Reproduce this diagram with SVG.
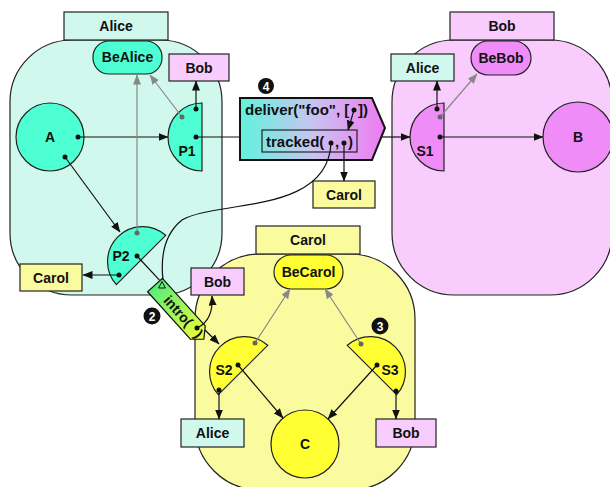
<svg xmlns="http://www.w3.org/2000/svg" width="610" height="487" viewBox="0 0 610 487">
<defs>
<marker id="ah" markerWidth="10" markerHeight="8" refX="9.5" refY="4" orient="auto" markerUnits="userSpaceOnUse"><path d="M0,0 L10,4 L0,8 Z" fill="#111"/></marker>
<marker id="ahg" markerWidth="10" markerHeight="8" refX="9.5" refY="4" orient="auto" markerUnits="userSpaceOnUse"><path d="M0,0 L10,4 L0,8 Z" fill="#888"/></marker>
<linearGradient id="gDeliver" x1="0" y1="0" x2="1" y2="0"><stop offset="0" stop-color="#5ff4dc"/><stop offset="0.5" stop-color="#c8c4f0"/><stop offset="1" stop-color="#f07af2"/></linearGradient>
<linearGradient id="gIntro" gradientUnits="userSpaceOnUse" x1="0" y1="0" x2="72" y2="0"><stop offset="0" stop-color="#55ee77"/><stop offset="1" stop-color="#f2ff3a"/></linearGradient>
</defs>
<style>
.vat{stroke:#222;stroke-width:1.2}
.box{stroke:#222;stroke-width:1.2}
text{font-family:"Liberation Sans",Arial,sans-serif;font-weight:bold;font-size:14px;fill:#111;text-anchor:middle}
.st{text-anchor:start;font-size:15px}
.num{fill:#fff;font-size:12px}
.mint{fill:#d0f8ec}.pink{fill:#f8ccfc}.lyel{fill:#fafa9e}
.aqua{fill:#4dffd2}.mag{fill:#f08cf8}.yel{fill:#ffff33}
.c{stroke:#111;stroke-width:1.2;fill:none}
.g{stroke:#888;stroke-width:1.2;fill:none}
.dot{fill:#111}.gdot{fill:#666}
</style>

<g id="vat-alice">
<rect class="vat mint" x="10" y="40" width="212" height="255" rx="62"/>
<rect class="box mint" x="64" y="12" width="104" height="28"/>
<text x="116" y="31">Alice</text>
</g>
<g id="vat-bob">
<rect class="vat pink" x="392" y="40" width="220" height="255" rx="62"/>
<rect class="box pink" x="450" y="12" width="104" height="28"/>
<text x="502" y="31">Bob</text>
</g>
<g id="vat-carol">
<rect class="vat lyel" x="195" y="254" width="220" height="236" rx="65"/>
<rect class="box lyel" x="256" y="226" width="104" height="28"/>
<text x="308" y="245">Carol</text>
</g>

<g id="BeAlice"><rect class="box aqua" x="93" y="41" width="69" height="33" rx="16"/><text x="127.5" y="62">BeAlice</text></g>
<g id="BeBob"><rect class="box mag" x="471" y="41" width="60" height="34" rx="17"/><text x="501" y="63">BeBob</text></g>
<g id="BeCarol"><rect class="box yel" x="274" y="255" width="69" height="34" rx="17"/><text x="308.5" y="277">BeCarol</text></g>

<g id="A"><circle class="box aqua" cx="50" cy="137" r="34"/><text x="50" y="142">A</text></g>
<g id="B"><circle class="box mag" cx="578" cy="137" r="35"/><text x="578" y="142">B</text></g>
<g id="C"><circle class="box yel" cx="305" cy="444" r="34"/><text x="305" y="449">C</text></g>

<g id="P1"><path class="box aqua" d="M202,103 A34,34 0 0 0 202,171 Z"/><text x="187" y="156">P1</text></g>
<g id="P2"><path class="box aqua" d="M116.3,284.7 A35,35 0 0 1 165.7,235.3 Z"/><text x="121" y="261">P2</text></g>
<g id="S1"><path class="box mag" d="M444,103 A34,34 0 0 0 444,171 Z"/><text x="425" y="156">S1</text></g>
<g id="S2"><path class="box yel" d="M218.3,394.7 A35,35 0 0 1 267.7,345.3 Z"/><text x="224" y="375">S2</text></g>
<g id="S3"><path class="box yel" d="M347.3,345.3 A35,35 0 0 1 396.7,394.7 Z"/><text x="390" y="375">S3</text></g>

<g id="ref-bob-alicevat"><rect class="box pink" x="169" y="54" width="60" height="27"/><text x="199" y="73">Bob</text></g>
<g id="ref-carol-alicevat"><rect class="box lyel" x="20" y="264" width="62" height="27"/><text x="51" y="283">Carol</text></g>
<g id="ref-alice-bobvat"><rect class="box mint" x="391" y="54" width="63" height="27"/><text x="422.5" y="73">Alice</text></g>
<g id="ref-carol-msg"><rect class="box lyel" x="313" y="181" width="62" height="27"/><text x="344" y="200">Carol</text></g>
<g id="ref-bob-intro"><rect class="box pink" x="191" y="268" width="53" height="27"/><text x="217.5" y="287">Bob</text></g>
<g id="ref-alice-carolvat"><rect class="box mint" x="181" y="419" width="63" height="28"/><text x="212.5" y="438">Alice</text></g>
<g id="ref-bob-carolvat"><rect class="box pink" x="376" y="419" width="60" height="28"/><text x="406" y="438">Bob</text></g>

<g id="msg-deliver">
<polygon points="240,98 372,98 385,128 372,160 240,160" fill="url(#gDeliver)" stroke="#111" stroke-width="2"/>
<text class="st" x="245" y="115">deliver("foo", [</text>
<text class="st" x="358" y="115">])</text>
<rect x="262" y="130" width="95" height="22" fill="none" stroke="#222" stroke-width="1.2"/>
<text class="st" x="266" y="147">tracked(</text>
<text class="st" x="335" y="147">,</text>
<text class="st" x="348" y="147">)</text>
</g>

<g id="msg-intro">
<g transform="translate(155,285) rotate(48)">
<polygon points="0,-10 64,-10 73,0 64,10 0,10" fill="url(#gIntro)" stroke="#111" stroke-width="1.2"/>
<text class="st" x="17" y="5" style="font-size:14px">intro(</text>
<text class="st" x="63.5" y="5" style="font-size:14px">)</text>
</g>
<polygon points="162,281.5 158.6,288 165.4,288" fill="none" stroke="#111" stroke-width="1"/>
</g>

<g id="steps">
<circle cx="266" cy="86" r="8" fill="#111"/><text class="num" x="266" y="90.5">4</text>
<circle cx="152" cy="316" r="8.5" fill="#111"/><text class="num" x="152" y="320.5">2</text>
<circle cx="380" cy="326" r="8.5" fill="#111"/><text class="num" x="380" y="330.5">3</text>
</g>

<g id="connectors">
<line class="c" x1="78" y1="137" x2="168" y2="137" marker-end="url(#ah)"/>
<line class="c" x1="65" y1="157" x2="120" y2="232" marker-end="url(#ah)"/>
<line class="c" x1="196" y1="109" x2="196" y2="81" marker-end="url(#ah)"/>
<line class="g" x1="182" y1="117" x2="150" y2="75" marker-end="url(#ahg)"/>
<line class="g" x1="137" y1="233" x2="137" y2="75" marker-end="url(#ahg)"/>
<line class="c" x1="137" y1="256" x2="159.5" y2="280.2"/>
<line class="c" x1="205" y1="330" x2="219" y2="344" marker-end="url(#ah)"/>
<line class="c" x1="119" y1="275" x2="83" y2="275" marker-end="url(#ah)"/>
<line class="c" x1="196" y1="137" x2="240" y2="137"/>
<line class="c" x1="381" y1="137" x2="410" y2="137" marker-end="url(#ah)"/>
<line class="c" x1="354" y1="110" x2="348" y2="130" marker-end="url(#ah)"/>
<line class="c" x1="344" y1="143" x2="344" y2="181" marker-end="url(#ah)"/>
<path class="c" d="M331,143 C328,215 215,200 182,220 C162,236 161,262 163,280"/>
<path class="c" d="M197,328 C210,322 213,310 212,296" marker-end="url(#ah)"/>
<line class="c" x1="437" y1="109" x2="437" y2="81" marker-end="url(#ah)"/>
<line class="g" x1="440" y1="117" x2="477" y2="74" marker-end="url(#ahg)"/>
<line class="c" x1="440" y1="137" x2="543" y2="137" marker-end="url(#ah)"/>
<line class="g" x1="255" y1="343" x2="290" y2="289" marker-end="url(#ahg)"/>
<line class="g" x1="361" y1="344" x2="325" y2="289" marker-end="url(#ahg)"/>
<line class="c" x1="238" y1="365" x2="283" y2="418" marker-end="url(#ah)"/>
<line class="c" x1="377" y1="365" x2="328" y2="419" marker-end="url(#ah)"/>
<line class="c" x1="219" y1="390" x2="219" y2="419" marker-end="url(#ah)"/>
<line class="c" x1="396" y1="391" x2="396" y2="419" marker-end="url(#ah)"/>
<circle class="dot" cx="78" cy="137" r="2.5"/>
<circle class="dot" cx="65" cy="157" r="2.5"/>
<circle class="dot" cx="196" cy="109" r="2.5"/>
<circle class="gdot" cx="182" cy="117" r="2.5"/>
<circle class="dot" cx="196" cy="137" r="2.5"/>
<circle class="gdot" cx="137" cy="233" r="2.5"/>
<circle class="dot" cx="137" cy="256" r="2.5"/>
<circle class="dot" cx="119" cy="275" r="2.5"/>
<circle class="dot" cx="354" cy="110" r="2.5"/>
<circle class="dot" cx="331" cy="143" r="2.5"/>
<circle class="dot" cx="344" cy="143" r="2.5"/>
<circle class="dot" cx="197" cy="328" r="2.5"/>
<circle class="dot" cx="437" cy="109" r="2.5"/>
<circle class="gdot" cx="440" cy="117" r="2.5"/>
<circle class="dot" cx="440" cy="137" r="2.5"/>
<circle class="gdot" cx="255" cy="343" r="2.5"/>
<circle class="gdot" cx="361" cy="344" r="2.5"/>
<circle class="dot" cx="238" cy="365" r="2.5"/>
<circle class="dot" cx="377" cy="365" r="2.5"/>
<circle class="dot" cx="219" cy="390" r="2.5"/>
<circle class="dot" cx="396" cy="391" r="2.5"/>
</g>
</svg>
